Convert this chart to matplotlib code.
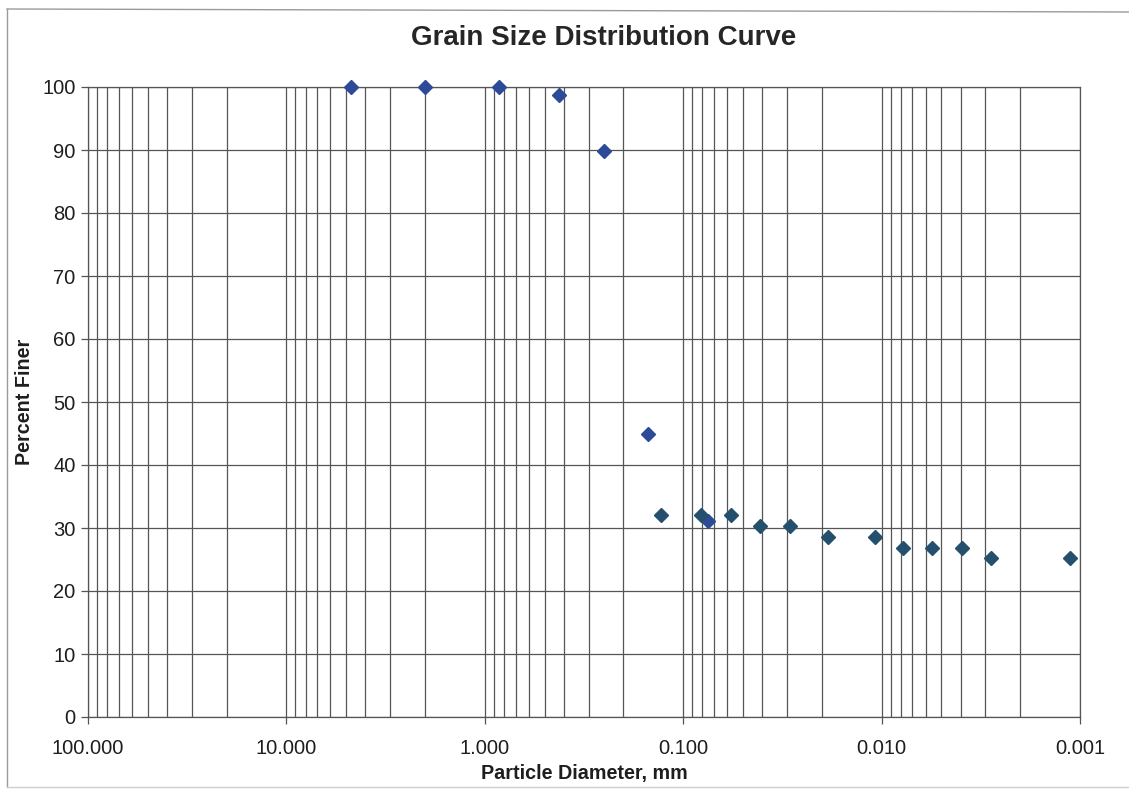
import matplotlib
matplotlib.use("Agg")
import matplotlib.pyplot as plt
from matplotlib.ticker import LogLocator, FixedLocator, FuncFormatter, NullFormatter
from matplotlib.lines import Line2D

plt.rcParams['font.family'] = ['Liberation Sans', 'DejaVu Sans']

# Sieve analysis (mm, percent finer)
sieve_diam = [4.75, 2.0, 0.85, 0.425, 0.25, 0.15, 0.075]
sieve_finer = [100.0, 100.0, 100.0, 98.8, 89.8, 45.0, 31.1]

# Hydrometer analysis (mm, percent finer)
hydro_diam = [0.130, 0.0817, 0.0577, 0.0410, 0.0290, 0.01855, 0.0108,
              0.00778, 0.00555, 0.00394, 0.00281, 0.001125]
hydro_finer = [32.0, 32.0, 32.0, 30.3, 30.3, 28.6, 28.6,
               26.9, 26.9, 26.9, 25.2, 25.2]

x_ticks = [100, 10, 1, 0.1, 0.01, 0.001]
x_tick_labels = ["100.000", "10.000", "1.000", "0.100", "0.010", "0.001"]
y_ticks = list(range(0, 101, 10))

fig = plt.figure(figsize=(11.29, 7.92), dpi=100)
ax = fig.add_axes([88 / 1129, 1 - 717 / 792, (1080 - 88) / 1129, (717 - 87) / 792])

grid_color = "#555555"
text_color = "#1e1e1e"
ax.set_xscale("log")
ax.set_xlim(100, 0.001)
ax.set_ylim(0, 100)

ax.xaxis.set_major_locator(FixedLocator(x_ticks))
ax.xaxis.set_major_formatter(FuncFormatter(
    lambda v, p: dict(zip(x_ticks, x_tick_labels)).get(round(v, 6), "")))
ax.xaxis.set_minor_locator(LogLocator(base=10, subs=range(2, 10), numticks=50))
ax.xaxis.set_minor_formatter(NullFormatter())
ax.set_yticks(y_ticks)

ax.grid(True, which="major", axis="both", color=grid_color, linewidth=0.9)
ax.grid(True, which="minor", axis="x", color=grid_color, linewidth=0.9)
ax.set_axisbelow(True)

ax.tick_params(axis="x", which="major", length=5, width=0.9, color=grid_color,
               labelsize=14.5, pad=11, labelcolor=text_color)
ax.tick_params(axis="x", which="minor", length=0)
ax.tick_params(axis="y", which="major", length=5, width=0.9, color=grid_color,
               labelsize=14.5, pad=4, labelcolor=text_color)

for side in ("left", "right", "top", "bottom"):
    ax.spines[side].set_color(grid_color)
    ax.spines[side].set_linewidth(0.9)

ax.plot(sieve_diam, sieve_finer, linestyle="none", marker="D", markersize=7.5,
        color="#2c4a98", markeredgecolor="#2c4a98", zorder=3, clip_on=False)
ax.plot(hydro_diam, hydro_finer, linestyle="none", marker="D", markersize=7.5,
        color="#24506e", markeredgecolor="#24506e", zorder=3, clip_on=False)

ax.set_xlabel("Particle Diameter, mm", fontsize=14.2, fontweight="bold",
              color=text_color, labelpad=4)
ax.set_ylabel("Percent Finer", fontsize=14.2, fontweight="bold",
              color=text_color, labelpad=6)
fig.text(604 / 1129, 1 - 38 / 792, "Grain Size Distribution Curve",
         fontsize=20, fontweight="bold", color="#262626",
         ha="center", va="center")

# Outer frame of the chart
W, H = 1129, 792
frame_color = "#9a9a9a"
fig.add_artist(Line2D([7 / W, 7 / W], [1 - 9 / H, 1 - 787 / H], color=frame_color,
                      linewidth=1.0, transform=fig.transFigure))
fig.add_artist(Line2D([7 / W, 1.0], [1 - 9 / H, 1 - 12 / H], color=frame_color,
                      linewidth=1.0, transform=fig.transFigure))
fig.add_artist(Line2D([7 / W, 1.0], [1 - 787 / H, 1 - 787 / H], color="#cfcfcf",
                      linewidth=1.0, transform=fig.transFigure))

fig.savefig("out.png", dpi=100)
